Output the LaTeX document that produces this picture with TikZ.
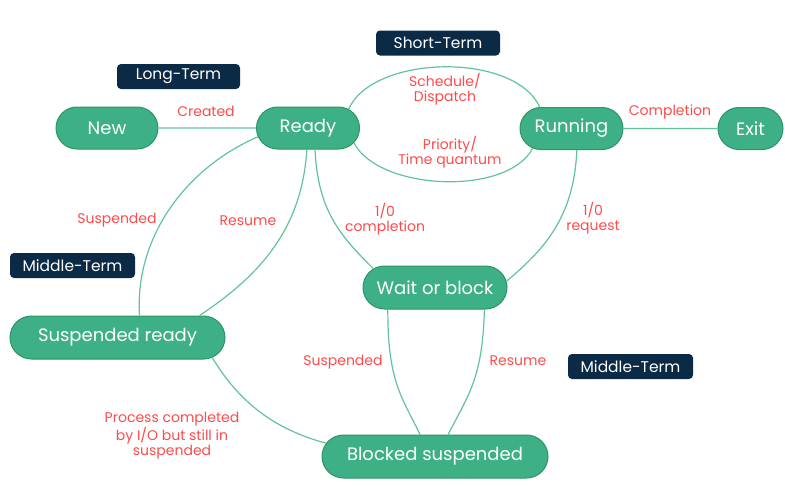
\documentclass[tikz,border=0pt]{standalone}
\usepackage{fontspec}
\setmainfont{Poppins}
\usetikzlibrary{shapes.misc}
\definecolor{stgreen}{HTML}{3DB185}
\definecolor{stborder}{HTML}{2C9468}
\definecolor{edgegreen}{HTML}{62C39B}
\definecolor{lblred}{HTML}{FF4A4A}
\definecolor{navy}{HTML}{0B2A45}
\begin{document}
\begin{tikzpicture}[x=1pt,y=-1pt,
 state/.style={rounded rectangle, fill=stgreen, draw=stborder, line width=1pt, text=white, font=\fontsize{18}{20}\selectfont, minimum height=42pt, inner sep=0pt},
 term/.style={rectangle, rounded corners=4pt, fill=navy, text=white, font=\fontsize{15.5}{17}\selectfont, minimum height=25pt, inner sep=0pt},
 lbl/.style={text=lblred, font=\fontsize{14}{15}\selectfont, align=center, inner sep=0pt},
 conn/.style={draw=edgegreen, line width=1.2pt}]
\useasboundingbox (0,0) rectangle (785,485);
\node[state, minimum width=102pt] (new) at (107,128) {New};
\node[state, minimum width=103pt] (ready) at (308,128) {Ready};
\node[state, minimum width=103pt] (run) at (571.5,128.5) {Running};
\node[state, minimum width=65pt] (exit) at (750.5,128.5) {Exit};
\node[state, minimum width=144pt, minimum height=43pt] (wait) at (435,287.5) {Wait or block};
\node[state, minimum width=215pt, minimum height=43pt] (sr) at (117.5,337.5) {Suspended ready};
\node[state, minimum width=226pt, minimum height=43pt] (bs) at (435,456.5) {Blocked suspended};

\draw[conn] (new) -- (ready);
\draw[conn] (run) -- (exit);
\draw[conn] (ready.25) .. controls +(25,-55) and +(-25,-55) .. (run.146);
\draw[conn] (ready.342) .. controls +(25,48) and +(-25,48) .. (run.207);
\draw[conn] (ready.190) .. controls +(-70,30) and +(-5,-80) .. (sr.45);
\draw[conn] (ready.267) .. controls +(-5,80) and +(60,-40) .. (sr.15);
\draw[conn] (ready.288) .. controls +(3,60) and +(-35,-35) .. (wait.163);
\draw[conn] (run.284) .. controls +(-3,70) and +(35,-30) .. (wait.5);
\draw[conn] (wait.205) .. controls +(0,70) and +(-20,-40) .. (bs.124);
\draw[conn] (wait.336) .. controls +(-2,70) and +(20,-40) .. (bs.59);
\draw[conn] (sr.348) .. controls +(30,50) and +(-45,-12) .. (bs.173.6);

\node[term, minimum width=123pt] (lt) at (178.5,76.5) {Long-Term};
\node[term, minimum width=124pt] (st) at (438,43) {Short-Term};
\node[term, minimum width=125pt] (mt1) at (72.5,265.5) {Middle-Term};
\node[term, minimum width=125pt] (mt2) at (630.5,366.5) {Middle-Term};

\node[lbl] (lcreated) at (206,111) {Created};
\node[lbl] (lsched) at (445,89) {Schedule/\\Dispatch};
\node[lbl] (lprio) at (450,152) {Priority/\\Time quantum};
\node[lbl] (lcompl) at (670,112) {Completion};
\node[lbl] (lsusp1) at (117,220) {Suspended};
\node[lbl] (lres1) at (248,221) {Resume};
\node[lbl] (lioc) at (385,219) {1/0\\completion};
\node[lbl] (lior) at (593,218) {1/0\\request};
\node[lbl] (lsusp2) at (343,362) {Suspended};
\node[lbl] (lres2) at (518,361) {Resume};
\node[lbl] (lproc) at (172,436) {Process completed\\by I/O but still in\\suspended};
\end{tikzpicture}
\end{document}
